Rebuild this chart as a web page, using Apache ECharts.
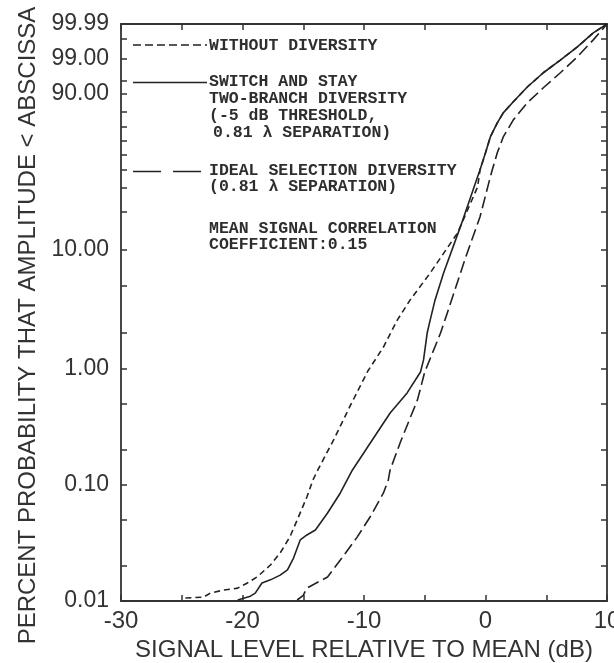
<!DOCTYPE html>
<html><head><meta charset="utf-8">
<script src="https://cdn.jsdelivr.net/npm/echarts@6/dist/echarts.min.js"></script>
<style>html,body{margin:0;padding:0;background:#fff}#c{width:614px;height:663px}</style>
</head><body><div id="c"></div>
<script>
// ---- data (signal level in dB, cumulative probability in percent) ----
const xWithout = [-24.7, -23.2, -22.65, -21.6, -20.4, -19.6, -18.8, -17.7, -16.9, -16.1, -15.5, -14.7, -14.2, -13.8, -12.5, -11.1, -9.7, -8.4, -7.25, -6.2, -4.55, -2.3, -0.65, -0.45, 0.0, 0.4, 0.97, 1.46, 2.29, 3.44, 4.76, 6.16, 7.56, 8.87, 10];
const pctWithout = [0.0106, 0.0108, 0.0117, 0.0124, 0.0129, 0.0143, 0.0161, 0.0204, 0.0259, 0.0356, 0.0498, 0.0785, 0.110, 0.134, 0.243, 0.485, 0.94, 1.52, 2.59, 3.82, 6.43, 13.66, 30.6, 40.1, 51.2, 62.6, 72.7, 79.5, 86.1, 92.9, 97.0, 98.9, 99.71, 99.956, 99.99];

const xSwitch = [-20.4, -19.35, -18.95, -18.4, -17.7, -16.9, -16.3, -15.8, -15.25, -14.7, -14.0, -13.0, -11.95, -10.95, -9.7, -7.85, -6.45, -5.35, -5.1, -4.8, -4.55, -4.15, -3.45, -2.07, -0.65, -0.45, 0.0, 0.4, 0.97, 1.46, 2.29, 3.44, 4.76, 6.16, 7.56, 8.87, 10];
const pctSwitch = [0.0102, 0.011, 0.0117, 0.0143, 0.0152, 0.0167, 0.0185, 0.0234, 0.0335, 0.037, 0.0408, 0.0572, 0.085, 0.134, 0.211, 0.414, 0.615, 0.93, 1.18, 2.0, 2.59, 3.82, 6.43, 15.25, 36.0, 40.1, 51.2, 62.6, 72.7, 79.5, 86.1, 92.9, 97.0, 98.9, 99.71, 99.956, 99.99];

const xIdeal = [-15.5, -15.0, -14.7, -13.0, -11.95, -10.55, -9.5, -8.4, -8.0, -7.85, -7.0, -5.6, -5.0, -3.7, -3.2, -1.65, -0.45, 0.4, 0.56, 0.97, 1.46, 2.29, 3.44, 4.76, 6.16, 7.56, 8.87, 10];
const pctIdeal = [0.0102, 0.0112, 0.0129, 0.0161, 0.0225, 0.0356, 0.0528, 0.085, 0.110, 0.134, 0.233, 0.536, 0.93, 2.0, 2.85, 8.56, 18.3, 36.0, 40.1, 51.2, 62.6, 74.8, 85.5, 92.6, 97.0, 99.18, 99.88, 99.99];

const yTickPct = [0.01, 0.02, 0.05, 0.1, 0.2, 0.5, 1, 2, 5, 10, 20, 30, 40, 50, 60, 70, 80, 90, 95, 99, 99.9, 99.99];
const yLabelPct = [0.01, 0.1, 1, 10, 90, 99, 99.99];
const xTickDb = [-30, -25, -20, -15, -10, -5, 0, 5, 10];
const xLabelDb = [-30, -20, -10, 0, 10];

const seriesNames = ['WITHOUT DIVERSITY', 'SWITCH AND STAY TWO-BRANCH DIVERSITY', 'IDEAL SELECTION DIVERSITY'];

// Rayleigh probability-paper transform
const toT = p => Math.log10(-Math.log(1 - Math.min(p, 99.99) / 100));
const yMin = toT(0.01), yMax = toT(99.99);
const yTicks = yTickPct.map(toT);
const yLabels = yLabelPct.map(toT);
const fmtY = v => { for (let i = 0; i < yLabels.length; i++) if (Math.abs(yLabels[i] - v) < 1e-6) return yLabelPct[i].toFixed(2); return ''; };
const pts = (xs, ps) => xs.map((x, i) => [x, toT(ps[i])]);

const ink = '#222';
const axisColor = '#333';
const mono = 'bold 16.5px "Liberation Mono"';

const chart = echarts.init(document.getElementById('c'), null, {renderer: 'canvas'});

const legendText = (x, y, t) => ({type: 'text', x: x, y: y, style: {text: t, font: mono, fill: '#2e2e2e', verticalAlign: 'middle', align: 'left'}, silent: true});
const legendLine = (y, dash, x2) => ({type: 'line', shape: {x1: 133, y1: y, x2: x2 || 207, y2: y}, style: {stroke: ink, lineWidth: 1.6, lineDash: dash}, silent: true});
const axLine = {onZero: false, lineStyle: {color: axisColor, width: 1.8}};

chart.setOption({
  animation: false,
  backgroundColor: '#fff',
  grid: {left: 121, right: 7, top: 24, bottom: 62, containLabel: false, outerBoundsMode: 'none'},
  xAxis: [{
    type: 'value', min: -30, max: 10, position: 'bottom',
    axisLine: axLine,
    axisTick: {inside: true, length: 6, customValues: xTickDb, lineStyle: {color: axisColor, width: 1.5}},
    axisLabel: {customValues: xLabelDb, fontSize: 24, fontFamily: 'Liberation Sans', color: axisColor, margin: 8},
    splitLine: {show: false},
    name: 'SIGNAL LEVEL RELATIVE TO MEAN (dB)', nameLocation: 'middle', nameGap: 35,
    nameTextStyle: {fontSize: 24, fontFamily: 'Liberation Sans', color: axisColor}
  }, {
    type: 'value', min: -30, max: 10, position: 'top',
    axisLine: axLine,
    axisTick: {inside: true, length: 6, customValues: xTickDb, lineStyle: {color: axisColor, width: 1.5}},
    axisLabel: {show: false}, splitLine: {show: false}
  }],
  yAxis: [{
    type: 'value', min: yMin, max: yMax, position: 'left',
    axisLine: axLine,
    axisTick: {inside: true, length: 6, customValues: yTicks, lineStyle: {color: axisColor, width: 1.5}},
    axisLabel: {customValues: yLabels, formatter: fmtY, fontSize: 23, fontFamily: 'Liberation Sans', color: axisColor, margin: 12},
    splitLine: {show: false},
    name: 'PERCENT PROBABILITY THAT AMPLITUDE < ABSCISSA', nameLocation: 'middle', nameRotate: 90, nameGap: 81,
    nameTextStyle: {fontSize: 24, fontFamily: 'Liberation Sans', color: axisColor, padding: [0, 26, 0, 0]}
  }, {
    type: 'value', min: yMin, max: yMax, position: 'right',
    axisLine: axLine,
    axisTick: {inside: true, length: 6, customValues: yTicks, lineStyle: {color: axisColor, width: 1.5}},
    axisLabel: {show: false}, splitLine: {show: false}
  }],
  series: [
    {name: seriesNames[0], type: 'line', data: pts(xWithout, pctWithout), showSymbol: false, symbol: 'none',
     lineStyle: {color: ink, width: 1.6, type: [6, 4]}},
    {name: seriesNames[1], type: 'line', data: pts(xSwitch, pctSwitch), showSymbol: false, symbol: 'none',
     lineStyle: {color: ink, width: 1.6, type: 'solid'}},
    {name: seriesNames[2], type: 'line', data: pts(xIdeal, pctIdeal), showSymbol: false, symbol: 'none',
     lineStyle: {color: ink, width: 1.6, type: [12, 5]}}
  ],
  graphic: [
    legendLine(45, [8, 4]),
    legendText(209, 46, 'WITHOUT DIVERSITY'),
    legendLine(82.5, null),
    legendText(209, 82, 'SWITCH AND STAY'),
    legendText(209, 98.5, 'TWO-BRANCH DIVERSITY'),
    legendText(209, 115.5, '(-5 dB THRESHOLD,'),
    legendText(213, 133, '0.81 λ SEPARATION)'),
    legendLine(171.5, [28, 12], 204),
    legendText(209, 170.5, 'IDEAL SELECTION DIVERSITY'),
    legendText(209, 187, '(0.81 λ SEPARATION)'),
    legendText(209, 228.5, 'MEAN SIGNAL CORRELATION'),
    legendText(209, 245, 'COEFFICIENT:0.15')
  ]
});
</script></body></html>
